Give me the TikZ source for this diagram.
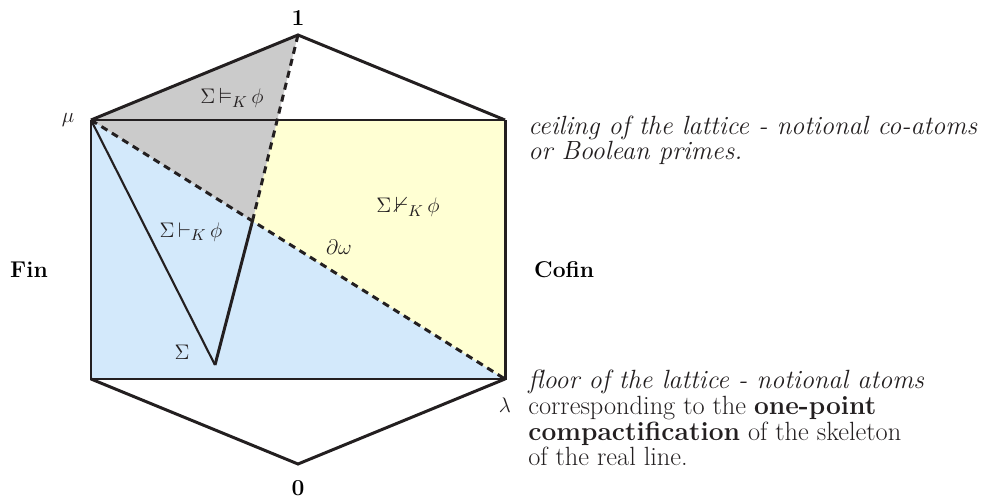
\documentclass[tikz,border=0pt]{standalone}
\usepackage{amsmath,amssymb}
\usetikzlibrary{positioning,calc}
\definecolor{ink}{HTML}{231F20}
\definecolor{greyfill}{HTML}{CBCBCB}
\definecolor{yellowfill}{HTML}{FFFFD3}
\definecolor{bluefill}{HTML}{D3E9FB}

\begin{document}
\begin{tikzpicture}[x=0.02cm, y=-0.02cm,
  font=\fontsize{15}{13.1}\selectfont,
  edge/.style={draw=ink, line width=1.7pt, line join=miter},
  thinedge/.style={draw=ink, line width=1.2pt},
  bound/.style={draw=ink, line width=1.7pt, dash pattern=on 4pt off 3pt},
  mlbl/.style={font=\fontsize{12.5}{14}\selectfont, text=ink},
  note/.style={align=left, anchor=west, inner sep=0pt, text=ink},
  noteit/.style={font=\fontsize{15}{13.1}\selectfont\itshape}]
\useasboundingbox (0,0) rectangle (989,502);
\coordinate (one) at (298,35);
\coordinate (zero) at (298,464);
\coordinate (mu) at (91,120);
\coordinate (tr) at (505,120);
\coordinate (bl) at (91,379);
\coordinate (lam) at (505,379);
\coordinate (sig) at (215,365);
\coordinate (meet) at ($(mu)!0.39!(lam)$);
\coordinate (cut) at (intersection of one--meet and mu--tr);
% regions
\fill[bluefill] (mu) -- (lam) -- (bl) -- cycle;
\fill[yellowfill] (cut) -- (tr) -- (lam) -- (meet) -- cycle;
\fill[greyfill] (mu) -- (one) -- (meet) -- cycle;
% lattice outline
\draw[edge] (mu) -- (one) -- (tr);
\draw[edge] (bl) -- (zero) -- (lam);
\draw[thinedge] (mu) -- (tr);
\draw[edge] (mu) -- (bl) -- (lam) -- (tr);
\draw[bound] (mu) -- (lam);
\draw[bound] (one) -- (meet);
\draw[thinedge] (mu) -- (sig);
\draw[edge] (sig) -- (meet);
% labels
\node[above=2pt of one, font=\fontsize{13}{15}\selectfont\bfseries] (lone) {1};
\node[below=6pt of zero, font=\fontsize{13}{15}\selectfont\bfseries] (lzero) {0};
\node[left=6pt of mu, mlbl] (lmu) {$\mu$};
\node[below=7pt of lam, mlbl] (llam) {$\lambda$};
\node[mlbl] (models) at (232,98) {$\Sigma\,{\vDash_{K}}\,\phi$};
\node[mlbl] (notproves) at (408,207) {$\Sigma\,{\nvdash_{K}}\,\phi$};
\node[mlbl] (proves) at (191,232) {$\Sigma\,{\vdash_{K}}\,\phi$};
\node[mlbl] (dw) at (339,247) {$\partial\omega$};
\node[mlbl] (lsig) at (182,352) {$\Sigma$};
\node[font=\fontsize{13}{15}\selectfont\bfseries] (fin) at (29,270) {Fin};
\node[font=\fontsize{13}{15}\selectfont\bfseries, anchor=west] (cofin) at (528,270) {Cofin};
\node[note, noteit] (ceil) at (528,140) {ceiling of the lattice - notional co-atoms\\or Boolean primes.};
\node[note] (floor) at (528,418) {{\itshape floor of the lattice - notional atoms}\\
  corresponding to the \textbf{one-point}\\
  \textbf{compactification} of the skeleton\\
  of the real line.};
\end{tikzpicture}
\end{document}
